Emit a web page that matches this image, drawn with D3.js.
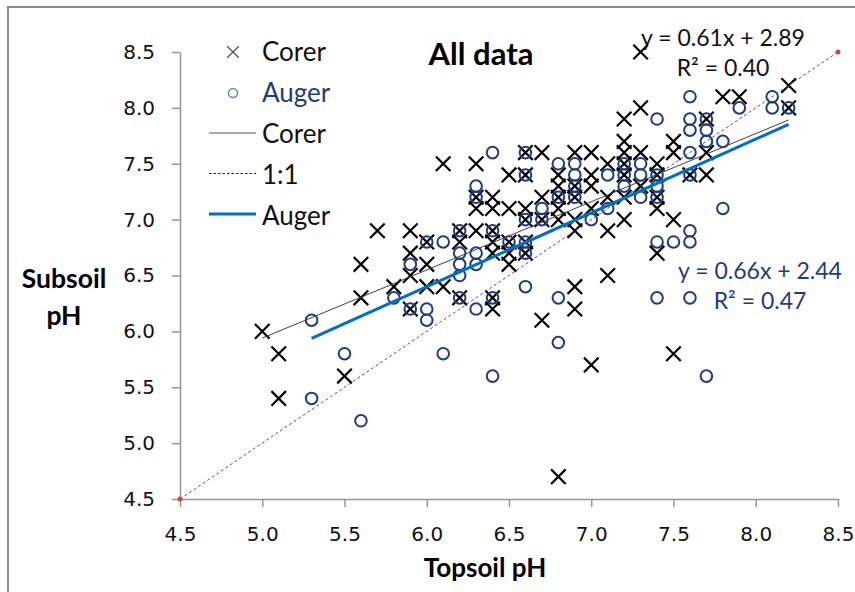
<!DOCTYPE html>
<html>
<head>
<meta charset="utf-8">
<script src="https://cdn.jsdelivr.net/npm/d3@7"></script>
<style>
  body { margin: 0; background: #fff; }
  svg { display: block; }
</style>
</head>
<body>
<svg width="855" height="592"></svg>
<script>
// Corer samples (topsoil pH, subsoil pH)
const corerTop = [5.0, 5.1, 5.1, 5.5, 5.6, 5.6, 5.7, 5.8, 5.9, 5.9, 5.9, 5.9, 6.0, 6.0, 6.0, 6.1, 6.1,
  6.2, 6.2, 6.2, 6.3, 6.3, 6.3, 6.3, 6.4, 6.4, 6.4, 6.4, 6.4, 6.4, 6.4, 6.5, 6.5, 6.5, 6.5, 6.5,
  6.6, 6.6, 6.6, 6.6, 6.6, 6.6, 6.7, 6.7, 6.7, 6.7, 6.8, 6.8, 6.8, 6.8, 6.8, 6.8,
  6.9, 6.9, 6.9, 6.9, 6.9, 6.9, 6.9, 7.0, 7.0, 7.0, 7.0, 7.0, 7.1, 7.1, 7.1, 7.1,
  7.2, 7.2, 7.2, 7.2, 7.2, 7.2, 7.2, 7.3, 7.3, 7.3, 7.3, 7.4, 7.4, 7.4, 7.4, 7.4,
  7.5, 7.5, 7.5, 7.5, 7.6, 7.7, 7.7, 7.7, 7.8, 7.9, 8.2, 8.2]
const corerSub = [6.0, 5.8, 5.4, 5.6, 6.6, 6.3, 6.9, 6.4, 6.9, 6.7, 6.5, 6.2, 6.8, 6.6, 6.4, 7.5, 6.4,
  6.9, 6.8, 6.3, 7.5, 7.2, 7.1, 6.9, 7.2, 7.1, 6.9, 6.8, 6.7, 6.3, 6.2, 7.4, 7.1, 6.8, 6.7, 6.6,
  7.6, 7.4, 7.1, 7.0, 6.8, 6.7, 7.6, 7.2, 7.0, 6.1, 7.4, 7.3, 7.2, 7.1, 7.0, 4.7,
  7.6, 7.3, 7.2, 7.0, 6.9, 6.4, 6.2, 7.6, 7.4, 7.3, 7.1, 5.7, 7.5, 7.2, 6.9, 6.5,
  7.9, 7.7, 7.6, 7.5, 7.4, 7.2, 7.0, 8.5, 8.0, 7.6, 7.3, 7.5, 7.4, 7.2, 7.1, 6.7,
  7.7, 7.6, 7.0, 5.8, 7.4, 7.9, 7.6, 7.4, 8.1, 8.1, 8.2, 8.0]

// Auger samples (topsoil pH, subsoil pH)
const augerTop = [5.3, 5.3, 5.5, 5.6, 5.8, 5.9, 5.9, 6.0, 6.0, 6.0, 6.1, 6.1,
  6.2, 6.2, 6.2, 6.2, 6.2, 6.3, 6.3, 6.3, 6.3, 6.3, 6.4, 6.4, 6.4, 6.4, 6.5,
  6.6, 6.6, 6.6, 6.6, 6.6, 6.6, 6.7, 6.7, 6.8, 6.8, 6.8, 6.8, 6.9, 6.9, 6.9, 6.9,
  7.0, 7.1, 7.1, 7.2, 7.2, 7.2, 7.3, 7.3, 7.3, 7.4, 7.4, 7.4, 7.4, 7.4, 7.4, 7.5,
  7.6, 7.6, 7.6, 7.6, 7.6, 7.6, 7.6, 7.6, 7.7, 7.7, 7.7, 7.7, 7.8, 7.8, 7.9, 8.1, 8.1, 8.2]
const augerSub = [6.1, 5.4, 5.8, 5.2, 6.3, 6.6, 6.2, 6.8, 6.2, 6.1, 6.8, 5.8,
  6.9, 6.7, 6.6, 6.5, 6.3, 7.3, 7.2, 6.7, 6.6, 6.2, 7.6, 6.9, 6.3, 5.6, 6.8,
  7.6, 7.4, 7.0, 6.8, 6.7, 6.4, 7.1, 7.0, 7.5, 7.2, 6.3, 5.9, 7.5, 7.4, 7.3, 7.2,
  7.0, 7.4, 7.1, 7.5, 7.4, 7.3, 7.5, 7.4, 7.2, 7.9, 7.4, 7.3, 7.2, 6.8, 6.3, 6.8,
  8.1, 7.9, 7.8, 7.6, 7.4, 6.9, 6.8, 6.3, 7.9, 7.8, 7.7, 5.6, 7.7, 7.1, 8.0, 8.1, 8.0, 8.0]

// linear fits: [slope, intercept], x extent
const corerFit = [0.61, 2.89]
const corerSpan = [5.0, 8.2]
const augerFit = [0.66, 2.44]
const augerSpan = [5.3, 8.2]
const corerLabel = ["y = 0.61x + 2.89", "R\u00b2 = 0.40"]
const augerLabel = ["y = 0.66x + 2.44", "R\u00b2 = 0.47"]

const phTicks = [4.5, 5.0, 5.5, 6.0, 6.5, 7.0, 7.5, 8.0, 8.5]

const svg = d3.select("svg")
const navy = "#1f3c7c"
const sans = "Lato, 'Open Sans', sans-serif"

const x = d3.scaleLinear().domain([4.5, 8.5]).range([180, 838])
const y = d3.scaleLinear().domain([4.5, 8.5]).range([499, 52])

// outer chart frame (runs off the right and bottom edge)
svg.append("rect")
  .attr("x", 8).attr("y", 7).attr("width", 900).attr("height", 640)
  .attr("fill", "none").attr("stroke", "#8c8c8c").attr("stroke-width", 2)

// axes
const xAxis = svg.append("g")
  .attr("transform", "translate(0," + y(4.5) + ")")
  .call(d3.axisBottom(x).tickValues(phTicks).tickFormat(d3.format(".1f"))
    .tickSize(8).tickSizeOuter(0).tickPadding(20))
const yAxis = svg.append("g")
  .attr("transform", "translate(" + x(4.5) + ",0)")
  .call(d3.axisLeft(y).tickValues(phTicks).tickFormat(d3.format(".1f"))
    .tickSize(8).tickSizeOuter(0).tickPadding(17))

for (const g of [xAxis, yAxis]) {
  g.select(".domain").attr("stroke", "#969696").attr("stroke-width", 1.5)
  g.selectAll(".tick line").attr("stroke", "#969696").attr("stroke-width", 1.5)
  g.selectAll(".tick text")
    .attr("fill", "#111")
    .style("font-family", "'DejaVu Sans', sans-serif")
    .style("font-size", "20px")
}

// axis titles
svg.append("text")
  .attr("x", 485).attr("y", 577)
  .attr("text-anchor", "middle")
  .style("font-family", sans).style("font-weight", "bold").style("font-size", "26px")
  .text("Topsoil pH")
svg.append("text")
  .attr("x", 64).attr("y", 288)
  .attr("text-anchor", "middle")
  .style("font-family", sans).style("font-weight", "bold").style("font-size", "26.5px")
  .text("Subsoil")
svg.append("text")
  .attr("x", 64).attr("y", 325)
  .attr("text-anchor", "middle")
  .style("font-family", sans).style("font-weight", "bold").style("font-size", "26.5px")
  .text("pH")

// title
svg.append("text")
  .attr("x", 481).attr("y", 65)
  .attr("text-anchor", "middle")
  .style("font-family", sans).style("font-weight", "bold").style("font-size", "31px")
  .text("All data")

// points
const xMark = d3.symbol().type(d3.symbolX).size(140)

svg.append("g")
  .selectAll("path")
  .data(d3.zip(corerTop, corerSub))
  .enter()
  .append("path")
  .attr("d", xMark)
  .attr("transform", d => "translate(" + x(d[0]) + "," + y(d[1]) + ")")
  .attr("fill", "none").attr("stroke", "#000").attr("stroke-width", 2.2)

svg.append("g")
  .selectAll("circle")
  .data(d3.zip(augerTop, augerSub))
  .enter()
  .append("circle")
  .attr("cx", d => x(d[0]))
  .attr("cy", d => y(d[1]))
  .attr("r", 5.8)
  .attr("fill", "none").attr("stroke", navy).attr("stroke-width", 2)

// 1:1 line with its end markers
svg.append("line")
  .attr("x1", x(4.5)).attr("y1", y(4.5)).attr("x2", x(8.5)).attr("y2", y(8.5))
  .attr("stroke", "#555").attr("stroke-width", 1).attr("stroke-dasharray", "3,2.5")
svg.append("g")
  .selectAll("circle")
  .data([4.5, 8.5])
  .enter()
  .append("circle")
  .attr("cx", d => x(d)).attr("cy", d => y(d)).attr("r", 2.5)
  .attr("fill", "#c0504d")

// trend lines
const fitLine = (fit, span) => span.map(v => [x(v), y(fit[0] * v + fit[1])])
svg.append("path")
  .attr("d", d3.line()(fitLine(corerFit, corerSpan)))
  .attr("stroke", "#404040").attr("stroke-width", 1).attr("fill", "none")
svg.append("path")
  .attr("d", d3.line()(fitLine(augerFit, augerSpan)))
  .attr("stroke", "#0070c0").attr("stroke-width", 3).attr("fill", "none")

// equation labels
svg.append("g")
  .selectAll("text")
  .data(corerLabel)
  .enter()
  .append("text")
  .attr("x", 723).attr("y", (d, i) => 46 + i * 30)
  .attr("text-anchor", "middle")
  .attr("fill", "#111")
  .style("font-family", sans).style("font-size", "23px")
  .text(d => d)
svg.append("g")
  .selectAll("text")
  .data(augerLabel)
  .enter()
  .append("text")
  .attr("x", 760).attr("y", (d, i) => 279 + i * 30)
  .attr("text-anchor", "middle")
  .attr("fill", navy)
  .style("font-family", sans).style("font-size", "23px")
  .text(d => d)

// legend
const legend = svg.append("g")
legend.append("path")
  .attr("d", d3.symbol().type(d3.symbolX).size(90))
  .attr("transform", "translate(233,52)")
  .attr("fill", "none").attr("stroke", "#555").attr("stroke-width", 1.3)
legend.append("circle")
  .attr("cx", 233).attr("cy", 93).attr("r", 4.5)
  .attr("fill", "none").attr("stroke", "#6f82aa").attr("stroke-width", 1.5)
legend.append("line")
  .attr("x1", 209).attr("x2", 256).attr("y1", 133).attr("y2", 133)
  .attr("stroke", "#555").attr("stroke-width", 1)
legend.append("line")
  .attr("x1", 209).attr("x2", 256).attr("y1", 173.5).attr("y2", 173.5)
  .attr("stroke", "#222").attr("stroke-width", 1).attr("stroke-dasharray", "2.5,2")
legend.append("line")
  .attr("x1", 209).attr("x2", 256).attr("y1", 214).attr("y2", 214)
  .attr("stroke", "#0070c0").attr("stroke-width", 3)

const legendText = ["Corer", "Auger", "Corer", "1:1", "Auger"]
const legendColor = ["#111", navy, "#111", "#111", "#111"]
legend.selectAll("text")
  .data(legendText)
  .enter()
  .append("text")
  .attr("x", 262)
  .attr("y", (d, i) => 61 + i * 41)
  .attr("fill", (d, i) => legendColor[i])
  .style("font-family", sans).style("font-size", "26px")
  .text(d => d)
</script>
</body>
</html>
